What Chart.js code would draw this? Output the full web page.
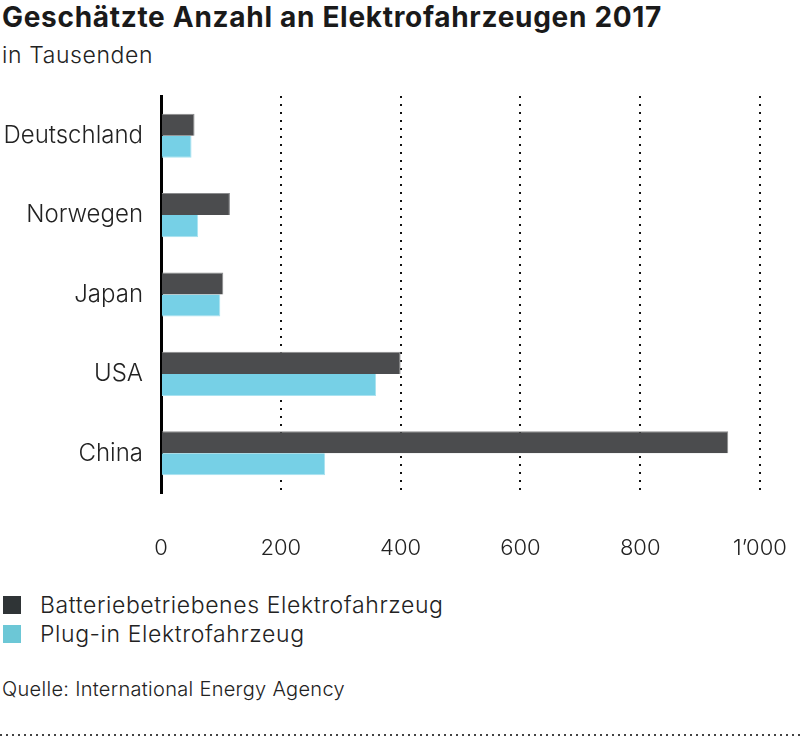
<!DOCTYPE html>
<html>
<head>
<meta charset="utf-8">
<script src="https://cdn.jsdelivr.net/npm/chart.js@4/dist/chart.umd.min.js"></script>
<style>
  html, body { margin: 0; padding: 0; background: #fff; }
  body { width: 800px; height: 738px; position: relative; overflow: hidden; font-family: Inter, "Liberation Sans", sans-serif; color: #222; }
  #title { position: absolute; left: 2px; top: 0px; font-size: 28px; font-weight: 700; letter-spacing: 0.7px; color: #1a1a1a; line-height: 34px; white-space: nowrap; }
  #subtitle { position: absolute; left: 2px; top: 40px; font-size: 23px; font-weight: 300; letter-spacing: 0.6px; color: #222; line-height: 30px; }
  #chartWrap { position: absolute; left: 0; top: 80px; width: 800px; height: 490px; }
  #legend { position: absolute; left: 3px; top: 590px; font-size: 23px; font-weight: 300; letter-spacing: 0.6px; color: #222; }
  .li { height: 29px; display: flex; align-items: center; }
  .sw { width: 18px; height: 18px; margin-right: 19px; }
  #source { position: absolute; left: 2px; top: 677px; font-size: 20px; font-weight: 300; letter-spacing: 0.3px; color: #222; }
  #dots { position: absolute; left: 0; top: 734px; width: 800px; height: 2px;
    background-image: repeating-linear-gradient(to right, #444 0 2px, transparent 2px 6px); }
</style>
</head>
<body>
<div id="title">Geschätzte Anzahl an Elektrofahrzeugen 2017</div>
<div id="subtitle">in Tausenden</div>
<div id="chartWrap"><canvas id="c" width="800" height="490"></canvas></div>
<div id="legend"></div>
<div id="source">Quelle: International Energy Agency</div>
<div id="dots"></div>
<script>
const categories = ["Deutschland", "Norwegen", "Japan", "USA", "China"];
const seriesNames = ["Batteriebetriebenes Elektrofahrzeug", "Plug-in Elektrofahrzeug"];
const batteryValues = [56, 115, 104, 400, 947];
const pluginValues = [51, 62, 99, 359, 274];
const xTicks = [0, 200, 400, 600, 800, 1000];
const barColors = ["#4b4c4e", "#76d0e6"];
const legendColors = ["#2f3436", "#6cc7d6"];

const legend = document.getElementById('legend');
seriesNames.forEach((n, i) => {
  const d = document.createElement('div');
  d.className = 'li';
  d.innerHTML = '<div class="sw" style="background:' + legendColors[i] + '"></div><span>' + n + '</span>';
  legend.appendChild(d);
});

const fontFamily = 'Inter, "Liberation Sans", sans-serif';

new Chart(document.getElementById('c'), {
  type: 'bar',
  data: {
    labels: categories,
    datasets: [
      { label: seriesNames[0], data: batteryValues, backgroundColor: barColors[0], borderColor: '#8a8b8d', borderWidth: {top: 1, right: 1, bottom: 0, left: 0}, borderSkipped: 'left' },
      { label: seriesNames[1], data: pluginValues, backgroundColor: barColors[1], borderColor: '#a9e2f0', borderWidth: {top: 0, right: 1, bottom: 1, left: 0}, borderSkipped: 'left' }
    ]
  },
  options: {
    indexAxis: 'y',
    responsive: false,
    maintainAspectRatio: false,
    animation: false,
    devicePixelRatio: 1,
    layout: { padding: { top: 16, right: 40, left: 0, bottom: 0 } },
    datasets: { bar: { barPercentage: 1.0, categoryPercentage: 0.555 } },
    plugins: { legend: { display: false }, tooltip: { enabled: false }, title: { display: false } },
    scales: {
      x: {
        min: 0, max: 1000,
        afterBuildTicks: (s) => { s.ticks = xTicks.map(v => ({ value: v })); },
        afterFit: (s) => { s.height = 77; s.paddingLeft = 0; s.paddingRight = 0; },
        grid: {
          drawTicks: false,
          lineWidth: 2,
          color: (ctx) => (ctx.tick && ctx.tick.value === 0) ? 'rgba(0,0,0,0)' : '#111'
        },
        border: { display: false, dash: [2, 6] },
        ticks: {
          padding: 42,
          maxRotation: 0,
          color: '#222',
          font: { family: fontFamily, size: 22, weight: 300 },
          callback: (v) => v >= 1000 ? Math.floor(v / 1000) + "\u2019" + String(v % 1000).padStart(3, '0') : String(v)
        }
      },
      y: {
        afterFit: (s) => { s.width = 161; s.paddingTop = 0; s.paddingBottom = 0; },
        grid: { display: false },
        border: { display: true, color: '#000', width: 3 },
        ticks: {
          padding: 10,
          color: '#222',
          font: { family: fontFamily, size: 24, weight: 300 }
        }
      }
    }
  }
});
</script>
</body>
</html>
